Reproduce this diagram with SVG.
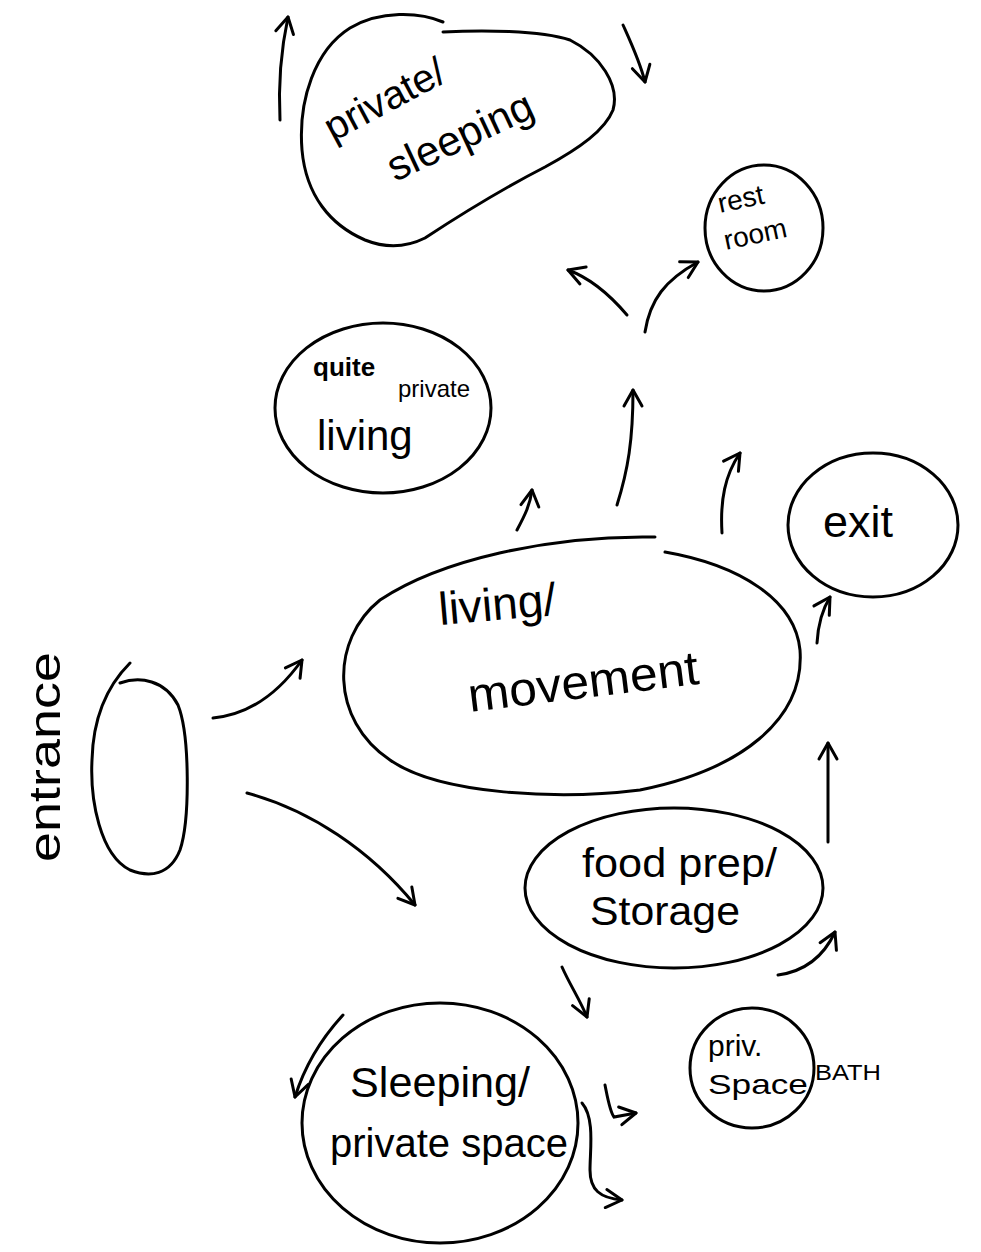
<svg xmlns="http://www.w3.org/2000/svg" width="981" height="1252" viewBox="0 0 981 1252">
<defs>
<style>
.n{fill:none;stroke:#000;stroke-width:3;stroke-linecap:round}
.c{fill:none;stroke:#000;stroke-width:3;stroke-linecap:round;marker-end:url(#ah)}
.t{font-family:"Liberation Sans",Arial,sans-serif;fill:#000}
</style>
<marker id="ah" viewBox="0 0 24 24" refX="21" refY="12" markerWidth="24" markerHeight="24" markerUnits="userSpaceOnUse" orient="auto">
<path d="M5,3 L21,12 L5,21" fill="none" stroke="#000" stroke-width="3" stroke-linecap="round" stroke-linejoin="round"/>
</marker>
</defs>
<rect width="981" height="1252" fill="#fff"/>

<g id="private-sleeping">
<path class="n" d="M443,22 C420,12 380,10 350,28 C315,50 298,100 302,150 C306,195 330,225 365,240 C385,248 405,248 425,238 C460,215 510,185 545,167 C580,148 605,130 613,110 C620,85 600,55 570,40 C540,30 480,30 443,32"/>
<text class="t" font-size="40" transform="translate(333,142) rotate(-28)">private/</text>
<text class="t" font-size="42" transform="translate(395,182) rotate(-25)">sleeping</text>
</g>

<g id="rest-room">
<ellipse class="n" cx="764" cy="228" rx="59" ry="63"/>
<text class="t" font-size="28" transform="translate(720,213) rotate(-12)">rest</text>
<text class="t" font-size="28" transform="translate(726,250) rotate(-12)">room</text>
</g>

<g id="quite-private-living">
<ellipse class="n" cx="383" cy="408" rx="108" ry="85"/>
<text class="t" font-size="26" font-weight="bold" x="313" y="376">quite</text>
<text class="t" font-size="24" x="398" y="397">private</text>
<text class="t" font-size="42" x="317" y="450">living</text>
</g>

<g id="exit">
<ellipse class="n" cx="873" cy="525" rx="85" ry="72"/>
<text class="t" font-size="44" x="823" y="537" textLength="70" lengthAdjust="spacingAndGlyphs">exit</text>
</g>

<g id="living-movement">
<path class="n" d="M655,537 C550,535 440,560 380,600 C330,640 330,720 390,760 C440,795 560,800 640,790 C740,770 805,720 800,650 C795,600 740,565 665,552"/>
<text class="t" font-size="46" transform="translate(440,625) rotate(-5)">living/</text>
<text class="t" font-size="48" transform="translate(470,712) rotate(-7)" textLength="232" lengthAdjust="spacingAndGlyphs">movement</text>
</g>

<g id="entrance">
<path class="n" d="M120,683 C140,676 165,680 178,705 C190,735 190,820 180,850 C170,875 150,878 130,870 C100,855 90,800 92,760 C93,720 105,688 130,663"/>
<text class="t" font-size="44" transform="translate(60,862) rotate(-90)" textLength="210" lengthAdjust="spacingAndGlyphs">entrance</text>
</g>

<g id="food-prep-storage">
<ellipse class="n" cx="674" cy="888" rx="149" ry="80"/>
<text class="t" font-size="40" x="582" y="877" textLength="195" lengthAdjust="spacingAndGlyphs">food prep/</text>
<text class="t" font-size="40" x="590" y="925" textLength="150" lengthAdjust="spacingAndGlyphs">Storage</text>
</g>

<g id="priv-space-bath">
<ellipse class="n" cx="752" cy="1068" rx="62" ry="60"/>
<text class="t" font-size="30" x="708" y="1056">priv.</text>
<text class="t" font-size="28" x="708" y="1094" textLength="100" lengthAdjust="spacingAndGlyphs">Space</text>
<text class="t" font-size="22" x="815" y="1080" textLength="66" lengthAdjust="spacingAndGlyphs">BATH</text>
</g>

<g id="sleeping-private-space">
<ellipse class="n" cx="440" cy="1123" rx="138" ry="120"/>
<text class="t" font-size="42" x="350" y="1097" textLength="180" lengthAdjust="spacingAndGlyphs">Sleeping/</text>
<text class="t" font-size="40" x="330" y="1157" textLength="238" lengthAdjust="spacingAndGlyphs">private space</text>
</g>

<g id="connectors">
<path class="c" d="M280,120 C278,80 282,45 288,17"/>
<path class="c" d="M623,25 C632,45 640,62 645,82"/>
<path class="c" d="M627,315 C610,295 590,278 568,270"/>
<path class="c" d="M645,332 C650,300 665,280 698,262"/>
<path class="c" d="M617,505 C628,470 633,440 633,390"/>
<path class="c" d="M517,530 C525,515 530,505 532,490"/>
<path class="c" d="M722,533 C720,500 725,475 740,453"/>
<path class="c" d="M817,643 C818,625 822,610 830,597"/>
<path class="c" d="M213,718 C245,715 275,698 302,660"/>
<path class="c" d="M247,793 C310,810 370,850 415,905"/>
<path class="c" d="M828,842 L828,743"/>
<path class="c" d="M778,975 C800,972 822,960 835,932"/>
<path class="c" d="M562,967 C570,985 580,1000 587,1017"/>
<path class="c" d="M343,1015 C320,1040 305,1065 295,1097"/>
<path class="c" d="M605,1085 C608,1100 610,1112 614,1117 L636,1113"/>
<path class="c" d="M582,1103 C595,1118 590,1150 590,1170 C590,1190 600,1198 622,1200"/>
</g>
</svg>
